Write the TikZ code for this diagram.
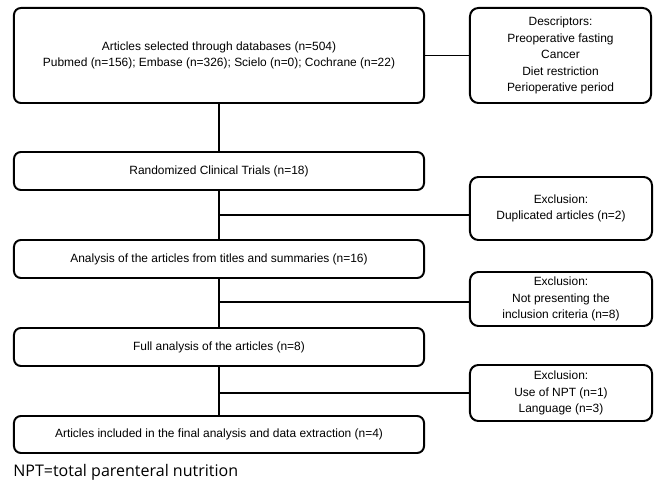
\documentclass[tikz,border=0pt]{standalone}
\usepackage{fontspec}
\setmainfont{Liberation Sans}
\newfontfamily\notefont{Open Sans}
\usetikzlibrary{positioning}

\begin{document}
\begin{tikzpicture}[
            x=0.025cm, y=-0.025cm,
            stage/.style={draw, line width=1.4pt, rounded corners=5pt,
                minimum width=10.25cm, minimum height=0.95cm, inner sep=0pt,
                align=center, font=\fontsize{8.5}{11.7}\selectfont},
            side/.style={stage, minimum width=4.55cm, rounded corners=6pt},
            link/.style={line width=1.1pt}
        ]
            \useasboundingbox (0,0) rectangle (660,484);
            % main column
            \node [stage, minimum height=2.375cm] (selected) at (219,55.5)
                {Articles selected through databases (n=504)\\
                 Pubmed (n=156); Embase (n=326); Scielo (n=0); Cochrane (n=22)};
            \node [stage] (trials) at (219,171) {Randomized Clinical Trials (n=18)};
            \node [stage] (titles) at (219,259) {Analysis of the articles from titles and summaries (n=16)};
            \node [stage] (full) at (219,347) {Full analysis of the articles (n=8)};
            \node [stage, minimum height=0.925cm] (included) at (219,434.5)
                {Articles included in the final analysis and data extraction (n=4)};
            % side column
            \node [side, minimum width=4.525cm, minimum height=2.375cm] (terms) at (560.5,55.5)
                {Descriptors:\\ Preoperative fasting\\ Cancer\\ Diet restriction\\ Perioperative period};
            \node [side, minimum height=1.575cm] (dup) at (561,208.5)
                {Exclusion:\\ Duplicated articles (n=2)};
            \node [side, minimum height=1.35cm] (nocrit) at (561,299)
                {Exclusion:\\ Not presenting the\\ inclusion criteria (n=8)};
            \node [side, minimum height=1.4cm] (npt) at (561,393)
                {Exclusion:\\ Use of NPT (n=1)\\ Language (n=3)};
            \node [anchor=west, inner sep=0pt, font=\notefont\fontsize{11.4}{13}\selectfont] (note) at (13,472)
                {NPT=total parenteral nutrition};
            % connectors
            \coordinate (cut1) at (219,215);
            \coordinate (cut2) at (219,302);
            \coordinate (cut3) at (219,393);
            \draw [link] (selected.east) -- (terms.west);
            \draw [link] (selected.south) -- (trials.north);
            \draw [link] (trials.south) -- (titles.north);
            \draw [link] (titles.south) -- (full.north);
            \draw [link] (full.south) -- (included.north);
            \draw [link] (cut1) -- (cut1 -| dup.west);
            \draw [link] (cut2) -- (cut2 -| nocrit.west);
            \draw [link] (cut3) -- (cut3 -| npt.west);
        \end{tikzpicture}
\end{document}
